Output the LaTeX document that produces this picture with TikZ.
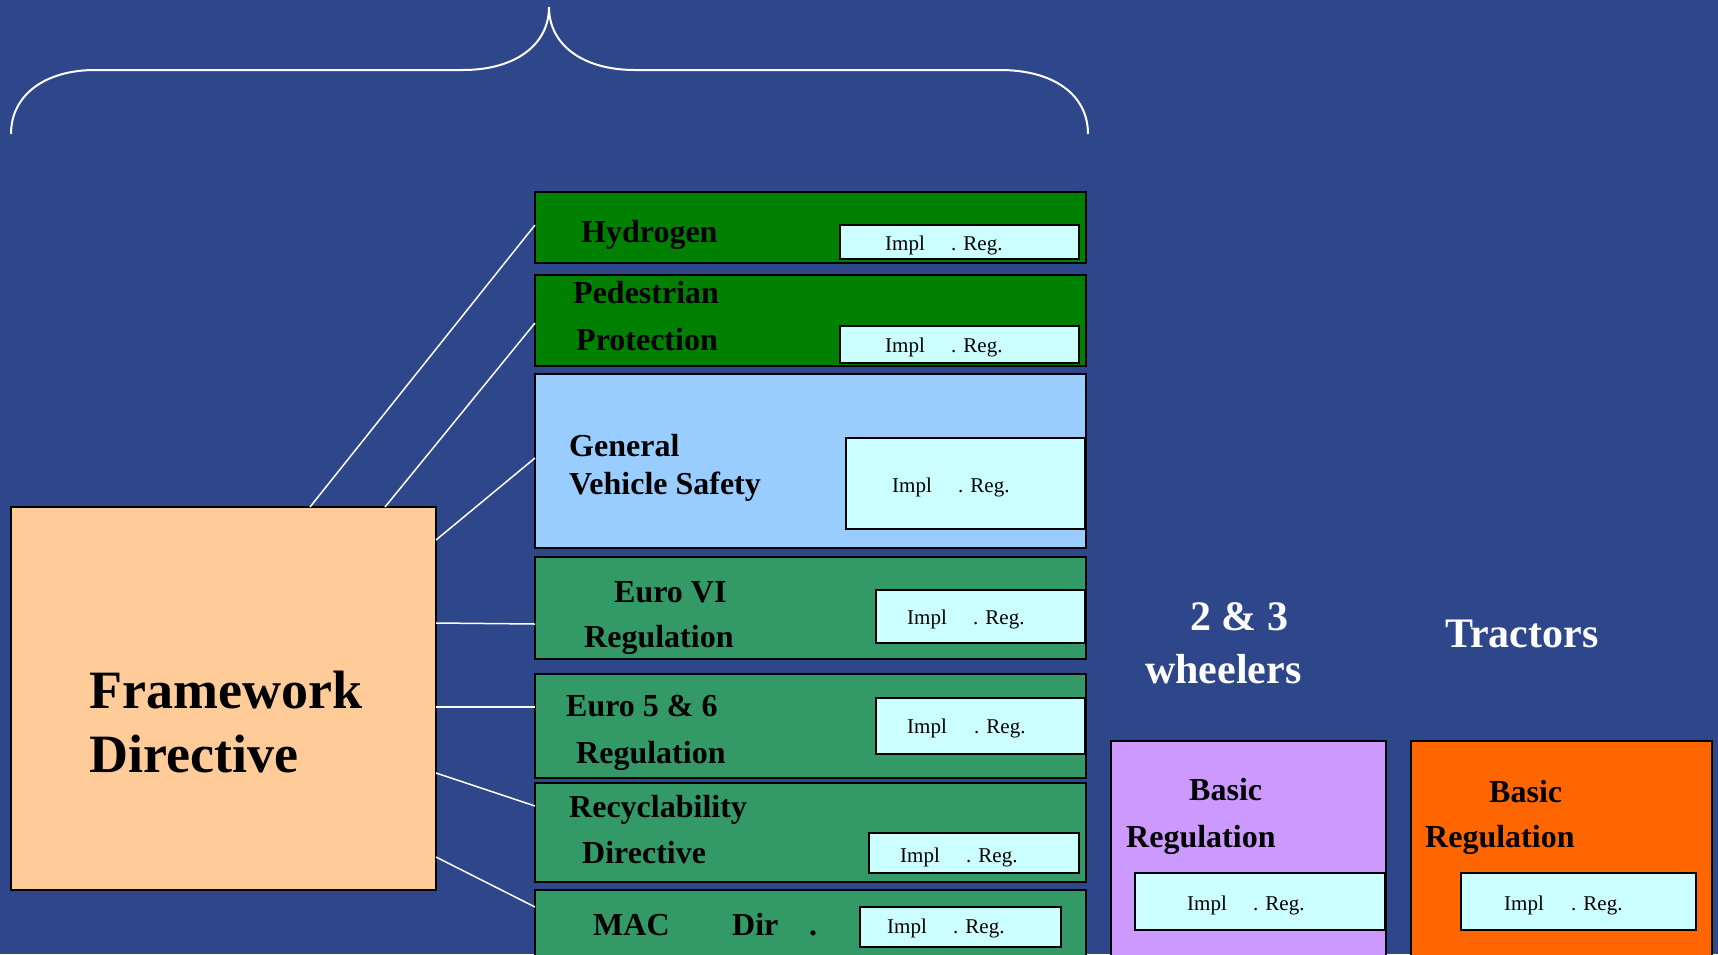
\documentclass[tikz,border=0pt]{standalone}
\usepackage{fontspec}
\setmainfont{Liberation Serif}
\definecolor{bg}{RGB}{46,71,139}
\definecolor{darkgreen}{RGB}{0,128,0}
\definecolor{seagreen}{RGB}{51,153,102}
\definecolor{skyblue}{RGB}{153,204,255}
\definecolor{paleblue}{RGB}{204,255,255}
\definecolor{peach}{RGB}{255,204,153}
\definecolor{lavender}{RGB}{204,153,255}
\definecolor{orangebox}{RGB}{255,102,0}
\begin{document}
\begin{tikzpicture}[x=1pt,y=-1pt,
  box/.style={draw=black, line width=2pt, anchor=north west, inner sep=0pt, outer sep=0pt},
  implbox/.style={box, fill=paleblue},
  lbl/.style={anchor=base west, inner sep=0pt, font=\fontsize{32}{38}\selectfont\bfseries},
  big/.style={anchor=base west, inner sep=0pt, font=\fontsize{54}{64}\selectfont\bfseries},
  title/.style={anchor=base west, inner sep=0pt, text=white, font=\fontsize{42}{50}\selectfont\bfseries},
  impl/.style={anchor=base west, inner sep=0pt, font=\fontsize{21}{25}\selectfont},
  conn/.style={draw=white, line width=1.5pt},
  brace/.style={draw=white, line width=2pt}]
\useasboundingbox (0,0) rectangle (1718,954);
\clip (0,0) rectangle (1718,954);
\fill[bg] (0,0) rectangle (1718,954);

% curly brace spanning the framework and the separate acts
\draw[brace] (11,134) .. controls (11,95) and (45,70) .. (95,70) -- (463,70)
  .. controls (515,70) and (549,45) .. (549,7)
  .. controls (549,45) and (583,70) .. (635,70) -- (1000,70)
  .. controls (1054,70) and (1088,95) .. (1088,134);

% framework directive
\node[box, fill=peach, minimum width=425pt, minimum height=383pt] (fw) at (11,507) {};
\node[big] (fwA) at (89,708) {Framework};
\node[big] (fwB) at (89,772) {Directive};

% separate acts
\node[box, fill=darkgreen, minimum width=551pt, minimum height=71pt] (hyd) at (535,192) {};
\node[box, fill=darkgreen, minimum width=551pt, minimum height=91pt] (ped) at (535,275) {};
\node[box, fill=skyblue, minimum width=551pt, minimum height=174pt] (gen) at (535,374) {};
\node[box, fill=seagreen, minimum width=551pt, minimum height=102pt] (eVI) at (535,557) {};
\node[box, fill=seagreen, minimum width=551pt, minimum height=104pt] (e56) at (535,674) {};
\node[box, fill=seagreen, minimum width=551pt, minimum height=99pt] (rec) at (535,783) {};
\node[box, fill=seagreen, minimum width=551pt, minimum height=100pt] (mac) at (535,890) {};

\node[implbox, minimum width=239pt, minimum height=34pt] (hydI) at (840,225) {};
\node[implbox, minimum width=239pt, minimum height=37pt] (pedI) at (840,326) {};
\node[implbox, minimum width=239pt, minimum height=91pt] (genI) at (846,438) {};
\node[implbox, minimum width=209pt, minimum height=53pt] (eVII) at (876,590) {};
\node[implbox, minimum width=209pt, minimum height=56pt] (e56I) at (876,698) {};
\node[implbox, minimum width=210pt, minimum height=40pt] (recI) at (869,833) {};
\node[implbox, minimum width=201pt, minimum height=40pt] (macI) at (860,907) {};

\node[lbl] (hydT) at (581,242) {Hydrogen};
\node[lbl] (pedT1) at (573,303) {Pedestrian};
\node[lbl] (pedT2) at (576,350) {Protection};
\node[lbl] (genT1) at (569,456) {General};
\node[lbl] (genT2) at (569,494) {Vehicle Safety};
\node[lbl] (eVIT1) at (614,602) {Euro VI};
\node[lbl] (eVIT2) at (584,647) {Regulation};
\node[lbl] (e56T1) at (566,716) {Euro 5 \& 6};
\node[lbl] (e56T2) at (576,763) {Regulation};
\node[lbl] (recT1) at (569,817) {Recyclability};
\node[lbl] (recT2) at (582,863) {Directive};
\node[lbl] (macT1) at (593,935) {MAC};
\node[lbl] (macT2) at (732,935) {Dir};
\node[lbl] (macT3) at (809,935) {.};

\node[impl] (hydIa) at (885,250) {Impl};  \node[impl] (hydIb) at (951,250) {. Reg.};
\node[impl] (pedIa) at (885,352) {Impl};  \node[impl] (pedIb) at (951,352) {. Reg.};
\node[impl] (genIa) at (892,492) {Impl};  \node[impl] (genIb) at (958,492) {. Reg.};
\node[impl] (eVIIa) at (907,624) {Impl};  \node[impl] (eVIIb) at (973,624) {. Reg.};
\node[impl] (e56Ia) at (907,733) {Impl};  \node[impl] (e56Ib) at (974,733) {. Reg.};
\node[impl] (recIa) at (900,862) {Impl};  \node[impl] (recIb) at (966,862) {. Reg.};
\node[impl] (macIa) at (887,933) {Impl};  \node[impl] (macIb) at (953,933) {. Reg.};

% links from the framework directive
\draw[conn] ([xshift=299pt]fw.north west) -- ([yshift=-33pt]hyd.north west);
\draw[conn] ([xshift=374pt]fw.north west) -- ([yshift=-48pt]ped.north west);
\draw[conn] ([yshift=-33pt]fw.north east) -- ([yshift=-84pt]gen.north west);
\draw[conn] ([yshift=-116pt]fw.north east) -- ([yshift=-67pt]eVI.north west);
\draw[conn] ([yshift=-200pt]fw.north east) -- ([yshift=-33pt]e56.north west);
\draw[conn] ([yshift=-266pt]fw.north east) -- ([yshift=-23pt]rec.north west);
\draw[conn] ([yshift=-350pt]fw.north east) -- ([yshift=-17pt]mac.north west);

% two and three wheelers
\node[title] (whA) at (1190,630) {2 \& 3};
\node[title] (whB) at (1145,683) {wheelers};
\node[box, fill=lavender, minimum width=275pt, minimum height=260pt] (wh) at (1111,741) {};
\node[implbox, minimum width=250pt, minimum height=57pt] (whI) at (1135,873) {};
\node[lbl] (whT1) at (1189,800) {Basic};
\node[lbl] (whT2) at (1126,847) {Regulation};
\node[impl] (whIa) at (1187,910) {Impl};  \node[impl] (whIb) at (1253,910) {. Reg.};

% tractors
\node[title] (trA) at (1445,647) {Tractors};
\node[box, fill=orangebox, minimum width=301pt, minimum height=260pt] (tr) at (1411,741) {};
\node[implbox, minimum width=235pt, minimum height=57pt] (trI) at (1461,873) {};
\node[lbl] (trT1) at (1489,802) {Basic};
\node[lbl] (trT2) at (1425,847) {Regulation};
\node[impl] (trIa) at (1504,910) {Impl};  \node[impl] (trIb) at (1571,910) {. Reg.};
\end{tikzpicture}
\end{document}
